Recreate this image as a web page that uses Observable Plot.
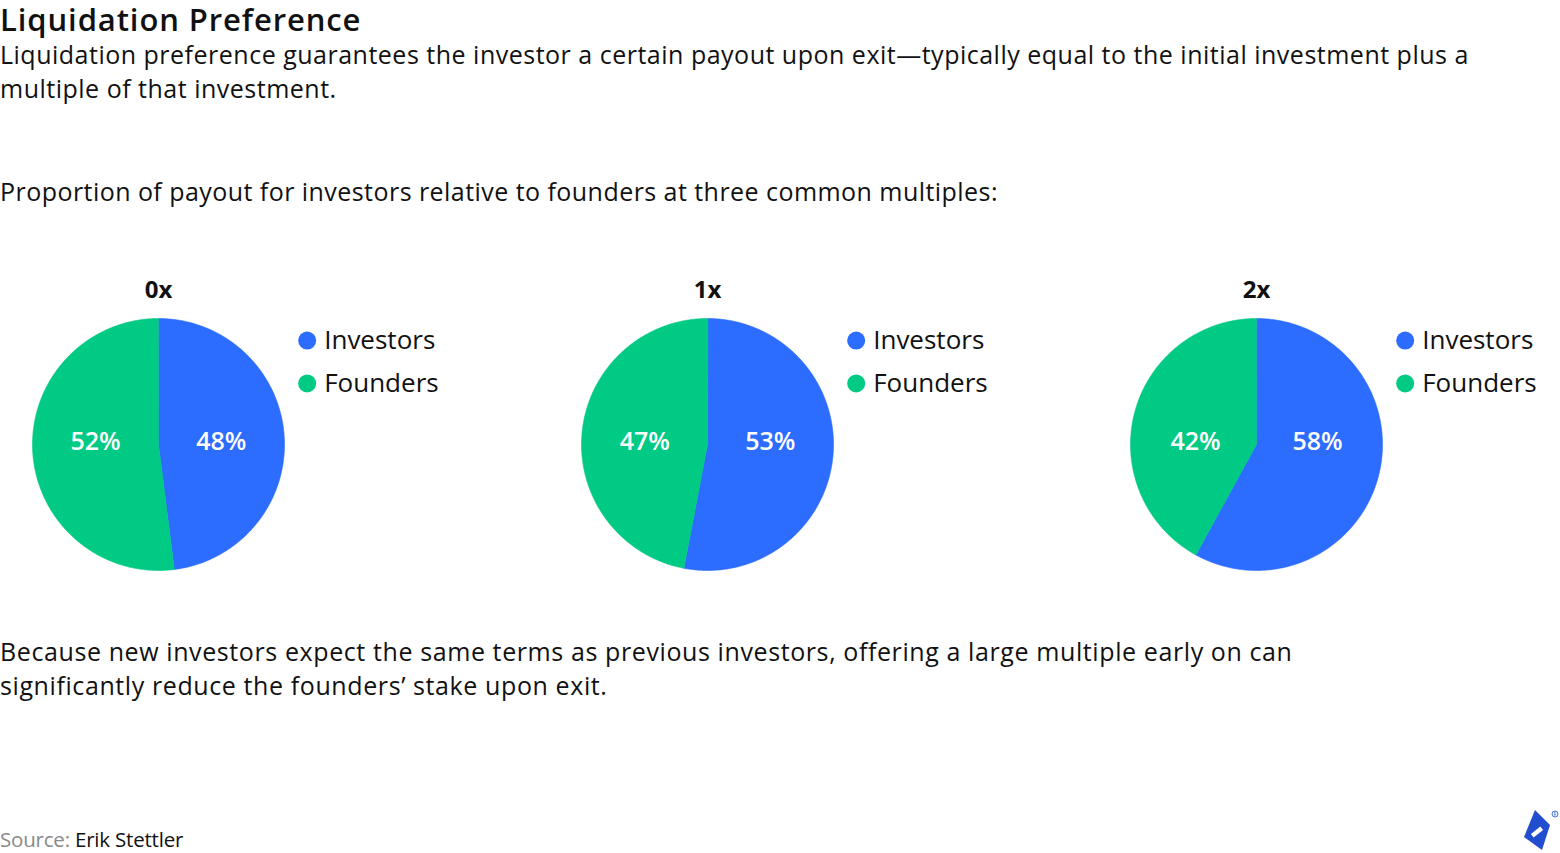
<!DOCTYPE html>
<html>
<head>
<meta charset="utf-8">
<script src="https://cdn.jsdelivr.net/npm/d3@7"></script>
<script src="https://cdn.jsdelivr.net/npm/@observablehq/plot@0.6"></script>
<style>
  html, body { margin: 0; padding: 0; background: #fff; }
  body { width: 1560px; height: 853px; position: relative; overflow: hidden;
         font-family: "Open Sans", "Noto Sans", sans-serif; color: #111; }
  .abs { position: absolute; left: 0; white-space: nowrap; }
  #title { top: 0px; font-size: 31px; line-height: 38px; font-weight: 600; letter-spacing: 0.9px; }
  #subtitle { top: 37px; font-size: 25px; line-height: 34px; letter-spacing: 0.5px; }
  #lead { top: 174px; font-size: 25px; line-height: 34px; letter-spacing: 0.45px; }
  #chart { top: 255px; }
  #note { top: 634px; font-size: 25px; line-height: 34px; letter-spacing: 0.6px; }
  #source { top: 825px; font-size: 20.5px; line-height: 28px; letter-spacing: -0.2px; }
  #source .lbl { color: #8a8a8a; }
  #logo { position: absolute; left: 1515px; top: 800px; }
</style>
</head>
<body>
<div id="title" class="abs">Liquidation Preference</div>
<div id="subtitle" class="abs">Liquidation preference guarantees the investor a certain payout upon exit—typically equal to the initial investment plus a<br>multiple of that investment.</div>
<div id="lead" class="abs">Proportion of payout for investors relative to founders at three common multiples:</div>
<div id="chart" class="abs"></div>
<div id="note" class="abs">Because new investors expect the same terms as previous investors, offering a large multiple early on can<br>significantly reduce the founders’ stake upon exit.</div>
<div id="source" class="abs"><span class="lbl">Source:</span> Erik Stettler</div>
<svg id="logo" width="45" height="53" viewBox="0 0 45 53">
  <path d="M20,10 L35,25 L27,50 L9,37 Z" fill="#204ECF"/>
  <rect x="-6" y="-2.2" width="12" height="4.4" fill="#fff" transform="translate(22,32) rotate(-38)"/>
  <circle cx="40" cy="14" r="3" fill="none" stroke="#204ECF" stroke-width="0.8"/>
  <text x="40" y="15.6" font-size="4.5" text-anchor="middle" fill="#204ECF" font-family="Open Sans">R</text>
</svg>
<script>
// ---- data ----
const multiples = ["0x", "1x", "2x"];
const investorShare = [48, 53, 58];
const founderShare = [52, 47, 42];
const seriesNames = ["Investors", "Founders"];
const seriesColors = ["#2C6CFF", "#00CA84"];

// ---- build slice geometry from the values ----
const pie = d3.pie().sort(null).value(d => d.value);
const slicePoints = [];
const sliceLabels = [];
multiples.forEach((m, i) => {
  const arcs = pie([
    {series: "Investors", value: investorShare[i]},
    {series: "Founders", value: founderShare[i]}
  ]);
  arcs.forEach(a => {
    const key = m + "-" + a.data.series;
    slicePoints.push({multiple: m, series: a.data.series, key, x: 0, y: 0});
    const n = Math.max(2, Math.ceil((a.endAngle - a.startAngle) / (Math.PI / 360)));
    for (let k = 0; k <= n; k++) {
      const t = a.startAngle + (a.endAngle - a.startAngle) * k / n;
      slicePoints.push({multiple: m, series: a.data.series, key, x: Math.sin(t), y: Math.cos(t)});
    }
    const mid = (a.startAngle + a.endAngle) / 2;
    sliceLabels.push({multiple: m, series: a.data.series, x: 0.5 * Math.sin(mid), y: 0, text: a.data.value + "%"});
  });
});
const legendRows = multiples.flatMap(m => seriesNames.map((s, i) => ({multiple: m, series: s, i})));

// ---- layout ----
const R = 126;          // pie radius in px
const bandW = 420;      // facet width in px
const chart = Plot.plot({
  width: 1560,
  height: 335,
  marginLeft: 32,
  marginRight: 10,
  marginTop: 63,
  marginBottom: 20,
  style: {fontFamily: "'Open Sans', 'Noto Sans', sans-serif", background: "transparent", color: "#111"},
  fx: {domain: multiples, paddingInner: 0.235, paddingOuter: 0, round: false, axis: null},
  x: {domain: [-1, bandW / R - 1], axis: null},
  y: {domain: [-1, 1], axis: null},
  color: {domain: seriesNames, range: seriesColors},
  marks: [
    Plot.line(slicePoints, {
      fx: "multiple", x: "x", y: "y", z: "key",
      fill: "series", stroke: "series", strokeWidth: 0.6, curve: "linear-closed"
    }),
    Plot.text(sliceLabels, {
      fx: "multiple", x: "x", y: "y", text: "text",
      fill: "white", fontSize: 25, fontWeight: 600, dy: -3,
      style: {letterSpacing: "0.6px"}
    }),
    Plot.text(multiples, {
      fx: d => d, x: () => 0, y: () => 1, text: d => d,
      dy: -28, fontSize: 24, fontWeight: 700, fill: "#111"
    }),
    Plot.dot(legendRows, {
      fx: "multiple", x: () => 1.18, y: d => 0.825 - d.i * 0.34,
      r: 9, fill: "series", stroke: null
    }),
    Plot.text(legendRows, {
      fx: "multiple", x: () => 1.18, y: d => 0.825 - d.i * 0.34, text: "series",
      dx: 17, textAnchor: "start", fontSize: 26, fill: "#111",
      style: {letterSpacing: "0.5px"}
    })
  ]
});
document.getElementById("chart").appendChild(chart);
</script>
</body>
</html>
